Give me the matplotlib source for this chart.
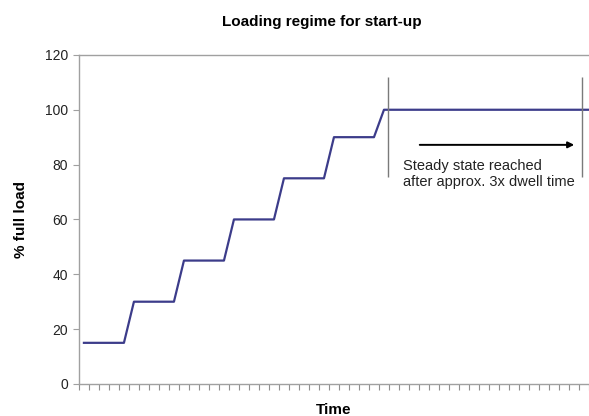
import matplotlib
matplotlib.use("Agg")
import matplotlib.pyplot as plt
import numpy as np

# step-up loading regime, one value per time interval
load = [15, 15, 15, 15, 15,
        30, 30, 30, 30, 30,
        45, 45, 45, 45, 45,
        60, 60, 60, 60, 60,
        75, 75, 75, 75, 75,
        90, 90, 90, 90, 90,
        100, 100, 100, 100, 100, 100, 100, 100, 100, 100,
        100, 100, 100, 100, 100, 100, 100, 100, 100, 100, 100, 100]
time_idx = np.arange(len(load))

y_ticks = [0, 20, 40, 60, 80, 100, 120]
title = "Loading regime for start-up"
note = "Steady state reached\nafter approx. 3x dwell time"

# annotation anchors (time index / % load)
steady_start = 30.4
steady_end = 49.8
marker_lo, marker_hi = 75.5, 112
arrow_from, arrow_to, arrow_y = 33.3, 49.3, 87.2

plt.rcParams['font.family'] = ['Liberation Sans', 'DejaVu Sans']

fig = plt.figure(figsize=(5.89, 4.16), dpi=100)
ax = fig.add_axes([0.134, 0.077, 0.866, 0.791])

ax.plot(time_idx, load, color='#3c3c8a', lw=1.6)

ax.vlines([steady_start, steady_end], marker_lo, marker_hi, color='#7a7a7a', lw=1.0)
ax.annotate('', xy=(arrow_to, arrow_y), xytext=(arrow_from, arrow_y),
            arrowprops=dict(arrowstyle='-|>', color='black', lw=1.4,
                            mutation_scale=9))
ax.text(arrow_from - 1.4, 82.0, note, fontsize=10.5, va='top', ha='left',
        color='#222222', linespacing=1.15)

ax.set_xlim(-0.4, 50.35)
ax.set_ylim(0, 120)
ax.set_yticks(y_ticks)
ax.set_xticks(np.arange(0, 52) - 0.5)
ax.set_xticklabels([])

for side in ['left', 'bottom', 'top']:
    ax.spines[side].set_color('#a0a0a0')
    ax.spines[side].set_linewidth(1.0)
ax.spines['right'].set_visible(False)
ax.tick_params(axis='y', colors='#a0a0a0', labelcolor='#222222',
               labelsize=10, length=4, pad=4)
ax.tick_params(axis='x', colors='#909090', length=4)

ax.set_xlabel('Time', fontsize=11, fontweight='bold', labelpad=6)
ax.set_ylabel('% full load', fontsize=11, fontweight='bold', labelpad=12)
fig.text(0.546, 0.947, title, ha='center', va='center', fontsize=11,
         fontweight='bold')

fig.savefig('out.png', dpi=100)
